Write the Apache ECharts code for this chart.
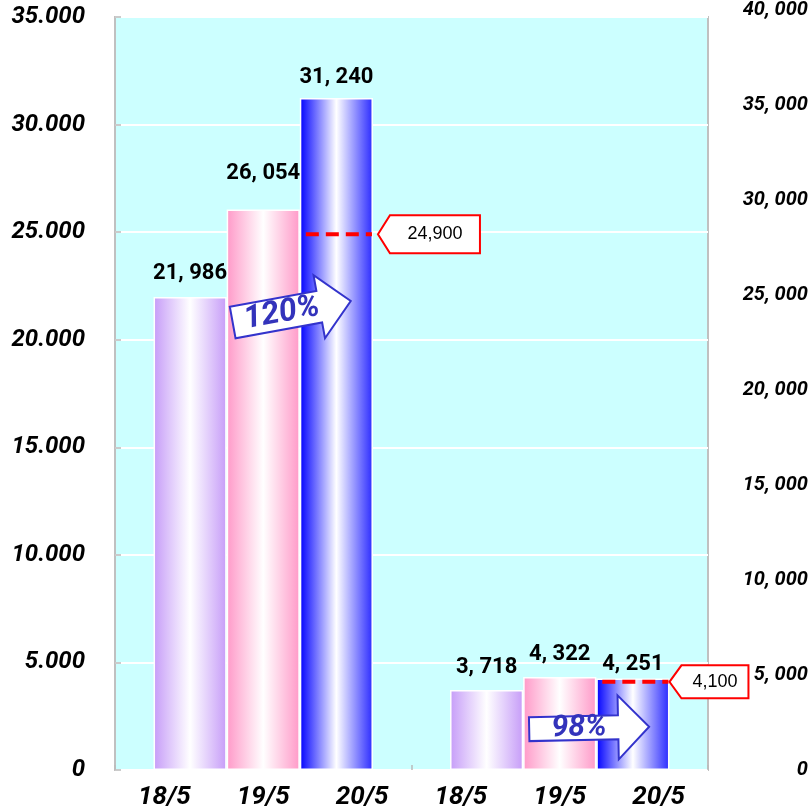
<!DOCTYPE html>
<html>
<head>
<meta charset="utf-8">
<script src="https://cdn.jsdelivr.net/npm/echarts@6/dist/echarts.min.js"></script>
<style>
  html, body { margin: 0; padding: 0; background: #fff; }
  #chart { width: 811px; height: 812px; }
</style>
</head>
<body>
<div id="chart"></div>
<script>
const groups = ['A', 'B'];
const periods = ['18/5', '19/5', '20/5'];
const values1805 = [21986, 3718];
const values1905 = [26054, 4322];
const values2005 = [31240, 4251];
const targets = [24900, 4100];
const growth = ['120%', '98%'];

const seriesValues = [values1805, values1905, values2005];

const tickFont = {
  fontFamily: 'Roboto, "DejaVu Sans", sans-serif',
  fontWeight: 'bold',
  fontStyle: 'italic',
  color: '#000',
};

const fmtValue = (v) => `${Math.floor(v / 1000)}, ${String(v % 1000).padStart(3, '0')}`;

const barGradient = (left, right) =>
  new echarts.graphic.LinearGradient(0, 0, 1, 0, [
    { offset: 0, color: left },
    { offset: 0.5, color: '#ffffff' },
    { offset: 1, color: right },
  ]);

const barColors = [
  ['#c69cf8', '#c69cf8'],
  ['#ff99c8', '#ff99c8'],
  ['#0000ff', '#2a2aff'],
];
// label distance above each bar (period x group), the original is uneven
const labelDistance = [
  [12, 12],
  [25, 12],
  [9, 3],
];

const chart = echarts.init(document.getElementById('chart'));

chart.setOption({
  animation: false,
  grid: [
    {
      left: 115, right: 103, top: 17, bottom: 42,
      show: true, backgroundColor: '#ccffff', borderColor: '#c0c0c0', borderWidth: 2,
    },
    { left: 115, right: 103, top: 4, bottom: 42, show: false },
  ],
  xAxis: [
    {
      type: 'category',
      gridIndex: 0,
      data: groups,
      axisLine: { show: false },
      axisTick: { show: true, inside: true, length: 5, lineStyle: { color: '#bbbbbb', width: 1.5 } },
      axisLabel: { show: false },
    },
    {
      type: 'category',
      gridIndex: 0,
      position: 'bottom',
      data: groups.flatMap(() => periods),
      axisLine: { show: false },
      axisTick: { show: false },
      axisLabel: { ...tickFont, fontSize: 26, margin: 14 },
    },
    { type: 'category', gridIndex: 1, show: false, data: groups },
  ],
  yAxis: [
    {
      type: 'value',
      gridIndex: 0,
      min: 0,
      max: 35000,
      interval: 5000,
      axisLine: { show: false },
      axisTick: { show: true, inside: true, length: 6, lineStyle: { color: '#bbbbbb', width: 1.5 } },
      splitLine: { lineStyle: { color: '#ffffff', width: 2 } },
      axisLabel: { ...tickFont, fontSize: 24, margin: 30, formatter: (v) => (v ? `${v / 1000}.000` : '0') },
    },
    {
      type: 'value',
      gridIndex: 1,
      position: 'right',
      min: 0,
      max: 40000,
      interval: 5000,
      axisLine: { show: false },
      axisTick: { show: false },
      splitLine: { show: false },
      axisLabel: { ...tickFont, fontSize: 20, align: 'right', margin: 100, formatter: (v) => (v ? `${v / 1000}, 000` : '0') },
    },
  ],
  series: periods.map((p, s) => ({
    type: 'bar',
    name: p,
    xAxisIndex: 0,
    yAxisIndex: 0,
    barGap: '0%',
    barCategoryGap: '26%',
    data: seriesValues[s].map((v, i) => ({ value: v, label: { distance: labelDistance[s][i] } })),
    itemStyle: { color: barGradient(barColors[s][0], barColors[s][1]), borderColor: '#ffffff', borderWidth: 1.5 },
    label: {
      show: true,
      position: 'top',
      formatter: (d) => fmtValue(d.value),
      fontFamily: 'Roboto, "DejaVu Sans", sans-serif',
      fontWeight: 'bold',
      fontSize: 22,
      color: '#000',
    },
  })),
});

// annotations: target lines with callouts, growth arrows
const layoutOf = (s, i) => {
  const l = chart.getModel().getSeriesByIndex(s).getData().getItemLayout(i);
  return {
    left: Math.min(l.x, l.x + l.width),
    right: Math.max(l.x, l.x + l.width),
    top: Math.min(l.y, l.y + l.height),
    bottom: Math.max(l.y, l.y + l.height),
  };
};

// [gap from bar, width, height] of each callout box
const calloutSize = [[5, 102, 38], [0, 79, 33]];
const arrowSpecs = [
  { level: 20800, len: 120, neck: 88, body: 16, head: 32, rot: 0.18, font: 32, textAt: 50 },
  { level: 1900, len: 120, neck: 89, body: 12, head: 32, rot: 0.02, font: 30, textAt: 50 },
];

const elements = [];
groups.forEach((g, i) => {
  const bar = layoutOf(2, i);
  const y = chart.convertToPixel({ yAxisIndex: 0 }, targets[i]);
  elements.push({
    type: 'line',
    z: 10,
    shape: { x1: bar.left + 6, y1: y, x2: bar.right - 1, y2: y },
    style: { stroke: '#ff0000', lineWidth: 4, lineDash: [13, 7] },
  });
  const [gap, w, h] = calloutSize[i];
  const tx = bar.right + gap;
  elements.push({
    type: 'polygon',
    z: 10,
    shape: { points: [[tx, y], [tx + 12, y - h / 2], [tx + w, y - h / 2], [tx + w, y + h / 2], [tx + 12, y + h / 2]] },
    style: { fill: '#ffffff', stroke: '#ff0000', lineWidth: 2 },
  });
  elements.push({
    type: 'text',
    z: 11,
    x: tx + 12 + (w - 12) / 2,
    y,
    style: {
      text: targets[i].toLocaleString('en-US'),
      fontSize: 18,
      fontFamily: '"Liberation Sans", Arial, sans-serif',
      fill: '#000',
      align: 'center',
      verticalAlign: 'middle',
    },
  });

  const a = arrowSpecs[i];
  const from = layoutOf(1, i);
  elements.push({
    type: 'group',
    z: 12,
    x: from.left + 6,
    y: chart.convertToPixel({ yAxisIndex: 0 }, a.level),
    rotation: a.rot,
    children: [
      {
        type: 'polygon',
        z: 12,
        shape: {
          points: [[0, -a.body], [a.neck, -a.body], [a.neck, -a.head], [a.len, 0], [a.neck, a.head], [a.neck, a.body], [0, a.body]],
        },
        style: { fill: '#ffffff', stroke: '#3333cc', lineWidth: 2 },
      },
      {
        type: 'text',
        z: 13,
        x: a.textAt,
        y: 0,
        style: {
          text: growth[i],
          fontSize: a.font,
          fontWeight: 'bold',
          fontStyle: 'italic',
          fontFamily: 'Roboto, "DejaVu Sans", sans-serif',
          fill: '#3333bb',
          align: 'center',
          verticalAlign: 'middle',
        },
      },
    ],
  });
});

chart.setOption({ graphic: elements });
</script>
</body>
</html>
